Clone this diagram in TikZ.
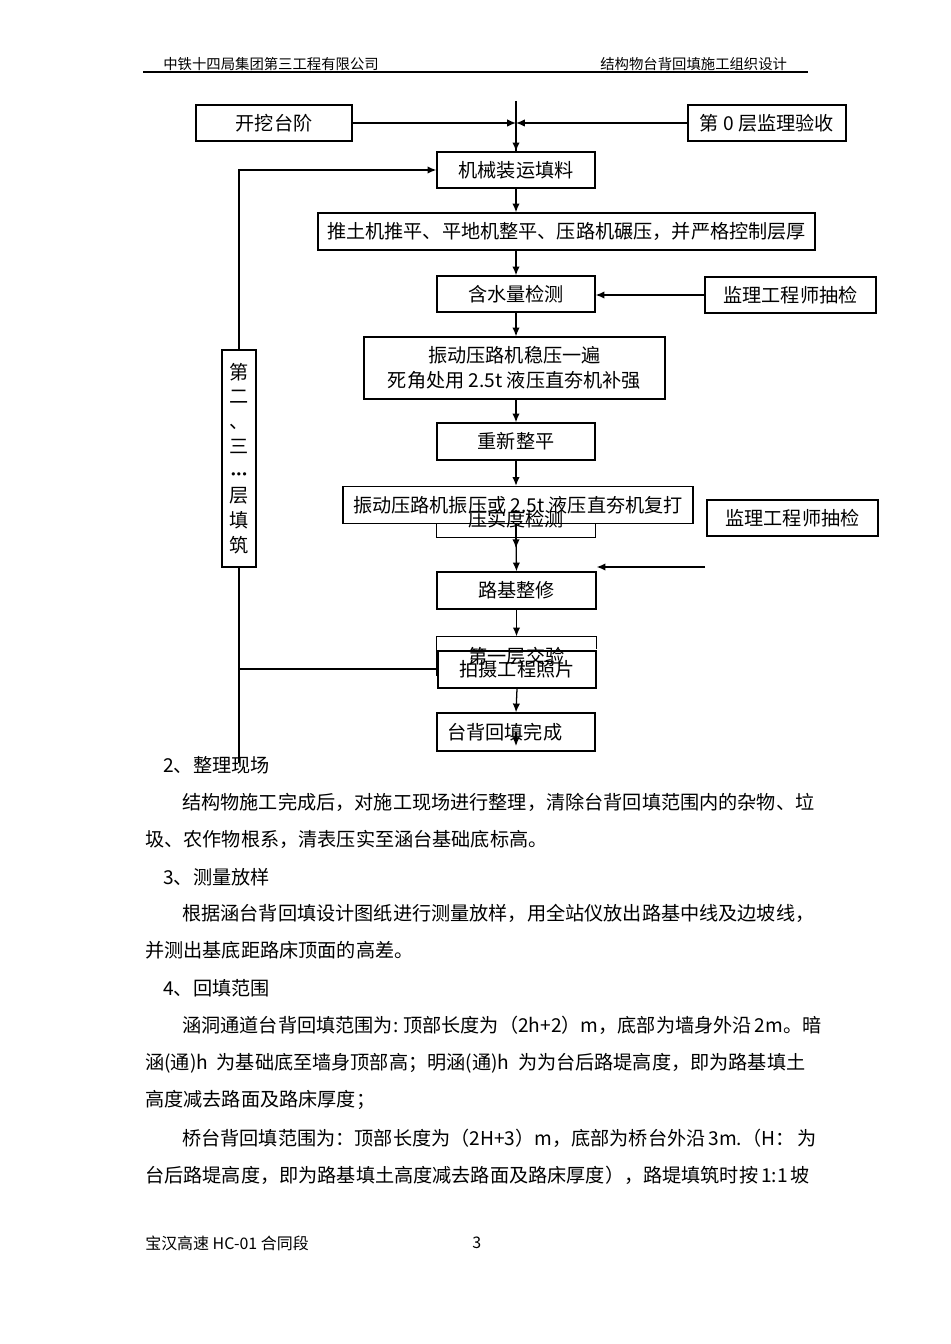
\documentclass[tikz,border=0pt]{standalone}
\usepackage{fontspec}
\setmainfont{Noto Sans CJK SC}
\newfontfamily\dotfont{DejaVu Sans}
\usetikzlibrary{arrows.meta}
\XeTeXlinebreaklocale "zh"
\XeTeXlinebreakskip=0pt plus 2pt minus 1pt
\tikzset{flowbox/.style={ % Boxes of the flow chart
draw,
line width=0.8pt,
inner sep=0pt,
minimum width=99pt,
minimum height=22.6pt,
font=\fontsize{12}{15.7}\selectfont},
plaintext/.style={ % Running text of the page
anchor=west,
inner sep=0pt,
font=\fontsize{12}{14}\selectfont},
every edge/.style={ % Sets the properties for each arrow
draw,
-{Latex[length=5.5pt,width=4.6pt]},
line width=0.8pt}}

\begin{document}
\begin{tikzpicture}[x=0.6265pt, y=-0.6265pt]
                \useasboundingbox (0,0) rectangle (950,1344);
                \fill[white] (0,0) rectangle (950,1344);

                % header and footer
                \node[plaintext, font=\fontsize{9}{11}\selectfont] (headl) at (163,64) {中铁十四局集团第三工程有限公司};
                \node[plaintext, font=\fontsize{9}{11}\selectfont] (headr) at (600,64) {结构物台背回填施工组织设计};
                \draw[line width=1.1pt] (143,72) -- (808,72);
                \node[plaintext, font=\fontsize{10}{12}\selectfont] (foot) at (145,1243) {宝汉高速 HC-01 合同段};
                \node[plaintext, font=\fontsize{10}{12}\selectfont] (page) at (472,1243) {3};

                % flow chart
                \node[flowbox, minimum width=97.7pt] (dig) at (274,123) {开挖台阶};
                \node[flowbox] (layer0) at (767,123) {第 0 层监理验收};
                \node[flowbox] (load) at (516,170) {机械装运填料};
                \node[flowbox, minimum width=311.4pt, minimum height=23.2pt] (spread) at (566.5,231.5) {推土机推平、平地机整平、压路机碾压，并严格控制层厚};
                \node[flowbox] (water) at (516,294) {含水量检测};
                \node[flowbox, minimum width=107.1pt] (spot1) at (790.5,295) {监理工程师抽检};
                \node[flowbox, minimum width=188.6pt, minimum height=38.8pt, align=center] (steady) at (514.5,368) {振动压路机稳压一遍\\死角处用 2.5t 液压直夯机补强};
                \node[flowbox, minimum height=23.2pt] (relevel) at (516,441.5) {重新整平};
                \node[flowbox, draw=none] (compact) at (516,519) {压实度检测};
                \node[flowbox, minimum width=219.3pt, minimum height=23.2pt] (vibrate) at (518,505) {振动压路机振压或 2.5t 液压直夯机复打};
                \node[flowbox, minimum width=107.1pt] (spot2) at (792.5,518) {监理工程师抽检};
                \node[flowbox, minimum width=99.6pt, minimum height=23.2pt] (repair) at (516.5,590.5) {路基整修};
                \node[flowbox, draw=none, minimum width=99.6pt, minimum height=23.8pt] (accept) at (516.5,656) {第一层交验};
                \node[flowbox, minimum height=23.2pt] (photo) at (517,669.5) {拍摄工程照片};
                \node[flowbox, minimum height=23.8pt] (finish) at (516,732) {\hspace*{-14pt}台背回填完成};
                \node[flowbox, minimum width=21.3pt, minimum height=136pt, align=center, font=\fontsize{12}{15.5}\selectfont] (layers) at (239,458.5) {第\\二\\、\\三\\{\dotfont\fontsize{7}{7}\selectfont •\kern-0.6pt•\kern-0.6pt•}\\层\\填\\筑};

                \coordinate (top) at (516,101);
                \coordinate (spot2in) at (705,567);
                \coordinate (join) at (239,669);
                \coordinate (tail) at (239,763);

                % partly hidden boxes
                \draw[line width=0.8pt] (compact.south west) ++(0,-14) -- (compact.south west) -- (compact.south east) -- ++(0,-14);
                \draw[line width=0.8pt] (accept.south west) -- (accept.north west) -- (accept.north east) -- ++(0,13);

                \draw[line width=0.8pt] (top) -- (load.north);
                \draw (dig) edge (dig -| top)
                (layer0) edge (layer0 -| top)
                (top |- dig) edge (load.north)
                (load.south) edge (load.south |- spread.north)
                (water.north |- spread.south) edge (water.north)
                (spot1.west) edge (spot1.west -| water.east)
                (water.south) edge (water.south |- steady.north)
                (relevel.north |- steady.south) edge (relevel.north)
                (relevel.south) edge (relevel.south |- vibrate.north)
                (compact.north |- vibrate.south) edge ++(0,24)
                (compact.south) edge (repair.north)
                (spot2in) edge (spot2in -| repair.east)
                (repair.south) edge (accept.north)
                (photo.south) edge (finish.north)
                (finish.center) edge ([yshift=3.5pt]finish.south)
                (layers.north) edge[to path={|- (\tikztotarget)}] (load.west);
                \draw[line width=0.8pt] (layers.south) -- (tail)
                (join) -- (join -| accept.west);

                % running text
                \node[plaintext] (sec2) at (163,765) {2、整理现场};
                \node[plaintext] (p2a) at (182,802) {\makebox[387pt][s]{结构物施工完成后，对施工现场进行整理，清除台背回填范围内的杂物、垃}};
                \node[plaintext] (p2b) at (145,839) {圾、农作物根系，清表压实至涵台基础底标高。};
                \node[plaintext] (sec3) at (163,877) {3、测量放样};
                \node[plaintext] (p3a) at (182,913) {\makebox[390.3pt][s]{根据涵台背回填设计图纸进行测量放样，用全站仪放出路基中线及边坡线，}};
                \node[plaintext] (p3b) at (145,950) {并测出基底距路床顶面的高差。};
                \node[plaintext] (sec4) at (163,988) {4、回填范围};
                \node[plaintext] (p4a) at (182,1025) {\makebox[390.3pt][s]{涵洞通道台背回填范围为: 顶部长度为（2h+2）m，底部为墙身外沿 2m。暗}};
                \node[plaintext] (p4b) at (145,1063) {\makebox[413.5pt][s]{涵(通)h 为基础底至墙身顶部高；明涵(通)h 为为台后路堤高度，即为路基填土}};
                \node[plaintext] (p4c) at (145,1100) {高度减去路面及路床厚度；};
                \node[plaintext] (p4d) at (182,1138) {\makebox[390.3pt][s]{桥台背回填范围为：顶部长度为（2H+3）m，底部为桥台外沿 3m.（H： 为}};
                \node[plaintext] (p4e) at (145,1175) {\makebox[413.5pt][s]{台后路堤高度，即为路基填土高度减去路面及路床厚度），路堤填筑时按 1:1 坡}};
            \end{tikzpicture}
\end{document}
